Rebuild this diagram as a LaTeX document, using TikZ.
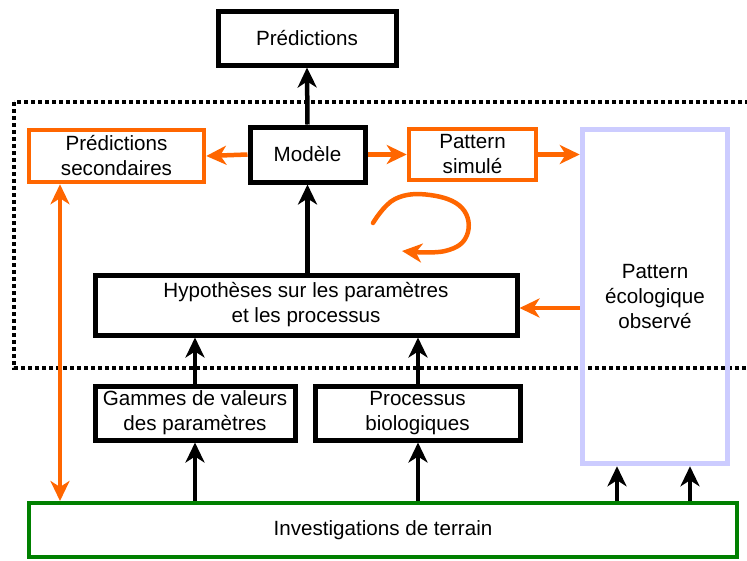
\documentclass[tikz,border=0pt]{standalone}
\usepackage{fontspec}
\setmainfont{Liberation Sans}
\usetikzlibrary{arrows.meta}

\definecolor{orangeline}{HTML}{FF6600}
\definecolor{lavender}{HTML}{CCCCFF}
\definecolor{fieldgreen}{HTML}{008000}

\begin{document}
\begin{tikzpicture}[x=1pt, y=-1pt, font=\fontsize{20.6}{25}\selectfont,
    headtip/.tip={Stealth[length=20pt 0, width=19pt 0, inset=6pt 0]},
    blackbox/.style={draw, line width=5pt, align=center, inner sep=0pt},
    orangebox/.style={draw=orangeline, line width=4.5pt, align=center, inner sep=0pt},
    blackarrow/.style={line width=4.5pt, arrows={-headtip}},
    orangearrow/.style={orangeline, line width=4.5pt, arrows={-headtip}},
    dotbox/.style={line width=4pt, dash pattern=on 4pt off 3pt}]
  \useasboundingbox (0,0) rectangle (747,560);
  %\draw (0,0) rectangle (747,560);

  \draw[dotbox] (14,102) rectangle (770,368);

  \node[blackbox, minimum width=178pt, minimum height=54pt] (pred) at (307,38) {Prédictions};
  \node[blackbox, minimum width=115pt, minimum height=55pt] (modele) at (307.5,154.5) {Modèle};
  \node[orangebox, minimum width=175pt, minimum height=52pt] (predsec) at (116.5,156) {Prédictions\\secondaires};
  \node[orangebox, minimum width=127pt, minimum height=51pt] (patsim) at (472.5,154.5) {Pattern\\simulé};
  \node[draw=lavender, line width=5.5pt, align=center, inner sep=0pt,
        minimum width=145pt, minimum height=334pt] (patobs) at (655,296.5) {Pattern\\écologique\\observé};
  \node[blackbox, minimum width=422pt, minimum height=60pt] (hypo) at (306,305) {Hypothèses sur les paramètres\\et les processus};
  \node[blackbox, minimum width=200pt, minimum height=54pt] (gammes) at (195,413) {Gammes de valeurs\\des paramètres};
  \node[blackbox, minimum width=205pt, minimum height=54pt] (proc) at (417.5,413) {Processus\\biologiques};
  \node[draw=fieldgreen, line width=4pt, inner sep=0pt,
        minimum width=708pt, minimum height=54pt] (terrain) at (383,530) {Investigations de terrain};

  % model chain
  \draw[blackarrow] (modele.north) -- (pred.south);
  \draw[blackarrow] (hypo.north -| modele) -- (modele.south);
  \draw[blackarrow] (gammes.north) -- (gammes.north |- hypo.south);
  \draw[blackarrow] ([xshift=0.5pt]proc.north) -- ([xshift=0.5pt]proc.north |- hypo.south);
  \draw[blackarrow] (gammes.south |- terrain.north) -- (gammes.south);
  \draw[blackarrow] ([xshift=0.5pt]proc.south |- terrain.north) -- ([xshift=0.5pt]proc.south);
  \draw[blackarrow] ([xshift=-38pt]patobs.south |- terrain.north) -- ([xshift=-38pt]patobs.south);
  \draw[blackarrow] ([xshift=35pt]patobs.south |- terrain.north) -- ([xshift=35pt]patobs.south);

  % orange links
  \draw[orangearrow] (modele.west) -- (predsec.east);
  \draw[orangearrow] (modele.east) -- (patsim.west);
  \draw[orangearrow] (patsim.east) -- (patsim.east -| patobs.west);
  \draw[orangearrow] ([yshift=-3pt]patobs.west |- hypo.east) -- ([yshift=-3pt]hypo.east);
  \draw[orangearrow, arrows={headtip-headtip}]
    ([xshift=-56.5pt]predsec.south) -- ([xshift=-56.5pt]predsec.south |- terrain.north);

  % loop
  \draw[orangearrow, line cap=round] plot[smooth, tension=0.7] coordinates
    {(373,223) (395,199) (430,195) (462,208) (467,235) (445,251) (402,251)};

\end{tikzpicture}
\end{document}
